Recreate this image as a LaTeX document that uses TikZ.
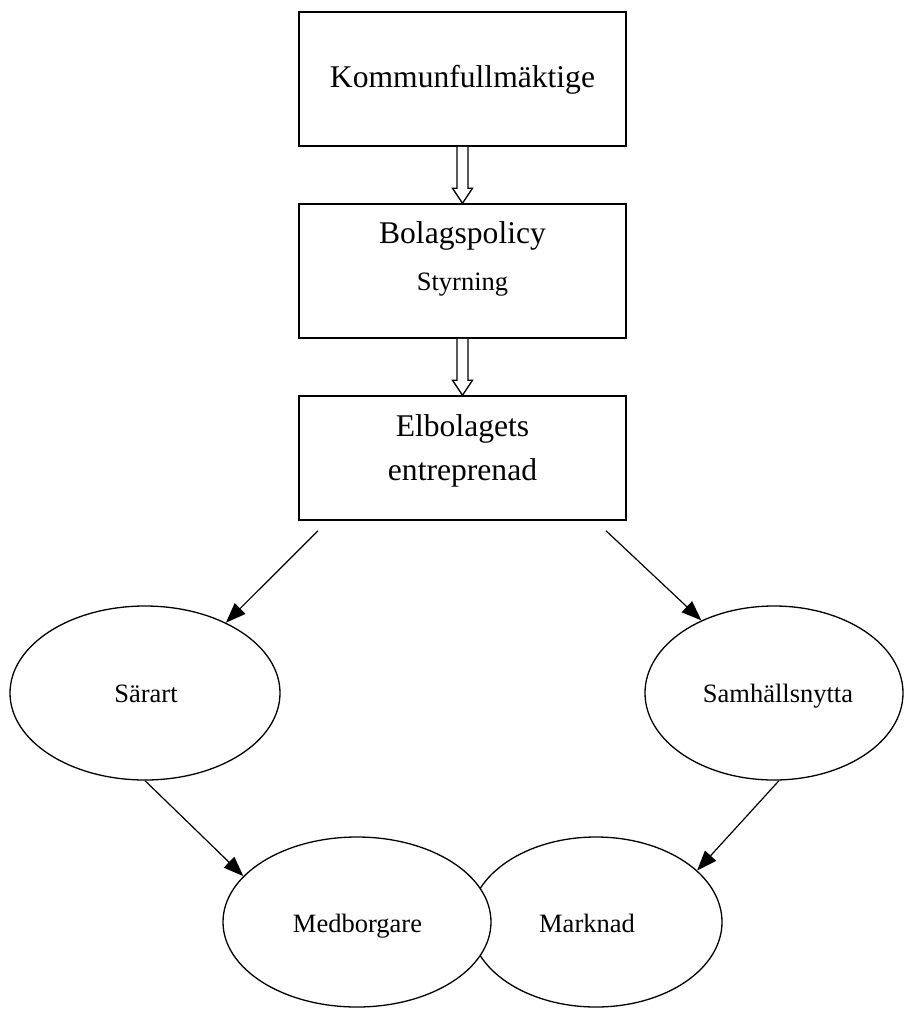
\documentclass[tikz,border=0pt]{standalone}
\usepackage{fontspec}
\setmainfont{Liberation Serif}
\usetikzlibrary{arrows.meta,shapes.geometric,calc}
% hollow block arrow from the bottom of one box to the top of the next
\newcommand\hollowarrow[2]{%
  \draw[hollow] ($(#1.south)+(-5.5,0)$) |- ($(#2.north)+(-10,-15)$)
    -- (#2.north) -- ($(#2.north)+(10,-15)$) -| ($(#1.south)+(5.5,0)$);}
\begin{document}
\begin{tikzpicture}[x=1pt,y=-1pt,
  box/.style={draw,line width=1.5pt,minimum width=327pt,inner sep=0pt},
  oval/.style={draw,ellipse,line width=1.3pt,inner sep=0pt,fill=white},
  conn/.style={line width=1.2pt,-{Triangle[length=20pt,width=15pt]}},
  hollow/.style={line width=1.3pt,fill=white},
  big/.style={font=\fontsize{31.6}{38}\selectfont,anchor=base,inner sep=0pt},
  small/.style={font=\fontsize{26.5}{32}\selectfont,anchor=base,inner sep=0pt}]
\useasboundingbox (0,0) rectangle (903,1009);

% boxes
\node[box,minimum height=134pt] (kf) at (462.5,79) {};
\node[big] (kft) at (462.5,87) {Kommunfullmäktige};
\node[box,minimum height=134pt] (bp) at (462.5,271) {};
\node[big] (bpt) at (462.5,243) {Bolagspolicy};
\node[small] (st) at (462.5,290) {Styrning};
\node[box,minimum height=124pt] (eb) at (462.5,458) {};
\node[big] (ebt1) at (462.5,436) {Elbolagets};
\node[big] (ebt2) at (462.5,480) {entreprenad};

\hollowarrow{kf}{bp}
\hollowarrow{bp}{eb}

% ovals
\node[oval,minimum width=270pt,minimum height=174pt] (sar) at (145,693) {};
\node[small] (sart) at (146,702) {Särart};
\node[oval,minimum width=258pt,minimum height=174pt] (sam) at (774,693) {};
\node[small] (samt) at (778,702) {Samhällsnytta};
\node[oval,minimum width=252pt,minimum height=170pt] (mar) at (596,922) {};
\node[oval,minimum width=268pt,minimum height=170pt] (med) at (357,922) {};
\node[small] (medt) at (357.5,932) {Medborgare};
\node[small] (mart) at (587,932) {Marknad};

% connectors
\draw[conn] ([xshift=-144.5pt,yshift=-10pt]eb.south) -- (sar.41);
\draw[conn] ([xshift=143.5pt,yshift=-10pt]eb.south) -- (sam.135);
\draw[conn] (sar.south) -- (med.158);
\draw[conn] ([xshift=5pt]sam.south) -- (mar.27);
\end{tikzpicture}
\end{document}
